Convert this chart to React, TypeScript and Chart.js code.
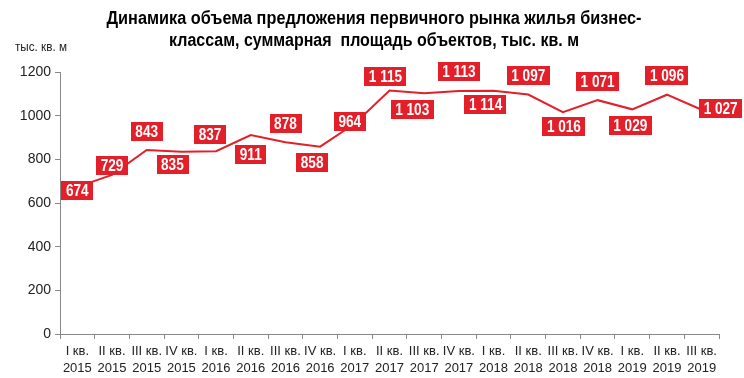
import React, { useEffect, useRef } from "react";
import { Chart, registerables } from "chart.js";

Chart.register(...registerables);

const quarters = ["I кв.", "II кв.", "III кв.", "IV кв.", "I кв.", "II кв.", "III кв.", "IV кв.", "I кв.", "II кв.", "III кв.", "IV кв.", "I кв.", "II кв.", "III кв.", "IV кв.", "I кв.", "II кв.", "III кв."];
const years = ["2015", "2015", "2015", "2015", "2016", "2016", "2016", "2016", "2017", "2017", "2017", "2017", "2018", "2018", "2018", "2018", "2019", "2019", "2019"];
const volume = [674, 729, 843, 835, 837, 911, 878, 858, 964, 1115, 1103, 1113, 1114, 1097, 1016, 1071, 1029, 1096, 1027];
const yTicks = [0, 200, 400, 600, 800, 1000, 1200];

// label placement relative to each point (layout only)
const labelOffsets: [number, number][] = [
  [0, 4], [0, -9], [0, -18.5], [-9, 12.5], [-6, -17], [0, 19.5], [0, -18.5], [-8, 15.5], [-5, -2],
  [-4, -14], [-12, 16], [0, -19], [-8, 14], [0, -19], [1, 14], [0, -18.5], [-2, 16], [0, -19], [19, -1],
];

const title = ["Динамика объема предложения первичного рынка жилья бизнес-", "классам, суммарная  площадь объектов, тыс. кв. м"];
const titleWidths = [535, 410];
const unitLabel = "тыс. кв. м";

const RED = "#e3202a";
const SANS = "'Liberation Sans', Arial, sans-serif";
const NARROW_SCALE = 0.85;

const fmt = (v: number) => {
  const s = String(v);
  return s.length > 3 ? s.slice(0, s.length - 3) + " " + s.slice(-3) : s;
};

function narrowText(ctx: CanvasRenderingContext2D, text: string, x: number, y: number, sx: number) {
  ctx.save();
  ctx.translate(x, y);
  ctx.scale(sx, 1);
  ctx.fillText(text, 0, 0);
  ctx.restore();
}

export default function App() {
  const ref = useRef<HTMLCanvasElement | null>(null);
  useEffect(() => {
    if (!ref.current) return;
    const overlay = {
      id: "overlay",
      afterDraw(chart: any) {
        const ctx = chart.ctx;
        ctx.save();
        ctx.fillStyle = "#000";
        ctx.font = `bold 18px ${SANS}`;
        ctx.textAlign = "center";
        ctx.textBaseline = "middle";
        title.forEach((t, i) => {
          const w = ctx.measureText(t).width;
          narrowText(ctx, t, 374, 19 + i * 22, titleWidths[i] / w);
        });
        ctx.font = `13px ${SANS}`;
        ctx.textAlign = "left";
        ctx.fillStyle = "#222";
        narrowText(ctx, unitLabel, 15, 47, 0.9);
        ctx.restore();
      },
      afterDatasetsDraw(chart: any) {
        const ctx = chart.ctx;
        const meta = chart.getDatasetMeta(0);
        ctx.save();
        ctx.font = `bold 16px ${SANS}`;
        ctx.textAlign = "center";
        ctx.textBaseline = "middle";
        meta.data.forEach((pt: any, i: number) => {
          const [dx, dy] = labelOffsets[i];
          const cx = pt.x + dx;
          const cy = pt.y + dy;
          const text = fmt(volume[i]);
          const w = ctx.measureText(text).width * NARROW_SCALE + 9;
          const h = 19;
          ctx.fillStyle = RED;
          ctx.fillRect(Math.round(cx - w / 2), Math.round(cy - h / 2), Math.round(w), h);
          ctx.fillStyle = "#fff";
          narrowText(ctx, text, cx, cy + 1, NARROW_SCALE);
        });
        ctx.restore();
      },
    };
    const chart = new Chart(ref.current, {
      type: "line",
      data: {
        labels: quarters.map((q, i) => [q, years[i]]),
        datasets: [
          {
            data: volume,
            borderColor: RED,
            borderWidth: 2,
            pointRadius: 0,
            tension: 0,
          },
        ],
      },
      options: {
        animation: false,
        responsive: false,
        devicePixelRatio: 1,
        layout: { padding: { top: 72, right: 25, left: 0, bottom: 0 } },
        plugins: { legend: { display: false }, title: { display: false }, tooltip: { enabled: false } },
        scales: {
          x: {
            offset: true,
            grid: { display: true, drawOnChartArea: false, offset: true, tickLength: 5, color: "#888" },
            border: { color: "#888", width: 1 },
            ticks: { color: "#222", font: { family: SANS, size: 13, lineHeight: 1.3 }, maxRotation: 0, autoSkip: false, padding: 4 },
            afterFit: (s: any) => { s.height = 44; },
          },
          y: {
            min: 0,
            max: 1200,
            afterBuildTicks: (s: any) => { s.ticks = yTicks.map((v) => ({ value: v })); },
            grid: { display: true, drawOnChartArea: false, tickLength: 5, color: "#888" },
            border: { color: "#888", width: 1 },
            ticks: { color: "#222", font: { family: SANS, size: 14 }, padding: 4, callback: (v: any) => String(v) },
            afterFit: (s: any) => { s.width = 60; },
          },
        },
      },
      plugins: [overlay],
    });
    return () => chart.destroy();
  }, []);
  return (
    <div style={{ position: "fixed", left: 0, top: 0, width: 744, height: 378, background: "#fff" }}>
      <canvas ref={ref} width={744} height={378} style={{ width: 744, height: 378 }} />
    </div>
  );
}
